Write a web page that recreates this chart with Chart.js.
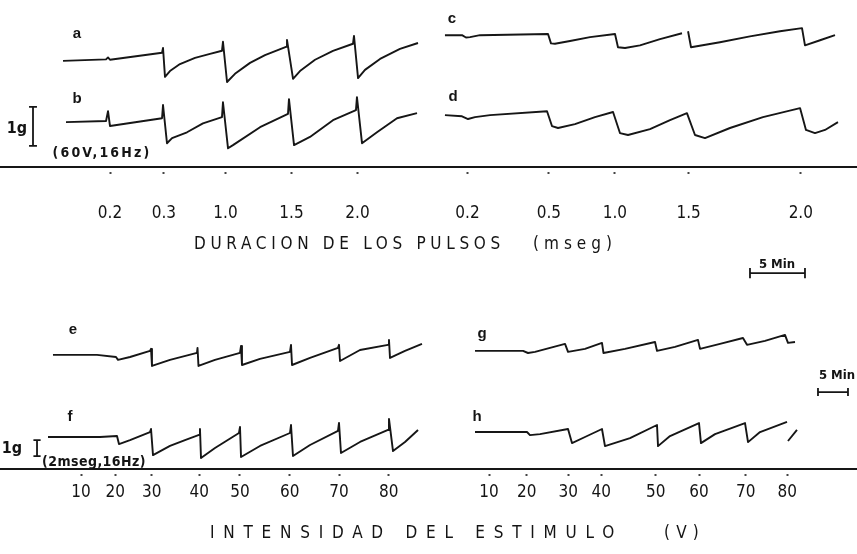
<!DOCTYPE html>
<html>
<head>
<meta charset="utf-8">
<script src="https://cdn.jsdelivr.net/npm/chart.js@4"></script>
<style>
  body { margin: 0; background: #fff; }
  #wrap { position: relative; width: 857px; height: 554px; overflow: hidden; background: #fff; }
  canvas { position: absolute; left: 0; }
  .lbl { position: absolute; transform: translate(-50%, -50%); white-space: nowrap; color: #141414;
         font-family: "Liberation Sans Narrow", "DejaVu Sans Condensed", "Liberation Sans", sans-serif; }
  .ltr { font-family: "Liberation Sans", sans-serif; font-weight: bold; font-size: 15px; }
  .note { font-weight: bold; font-size: 14px; }
  .ttl { position: absolute; transform: translateY(-50%); white-space: nowrap; color: #141414; font-size: 17px;
         font-family: "Liberation Sans Narrow", "DejaVu Sans Condensed", "Liberation Sans", sans-serif; }
</style>
</head>
<body>
<div id="wrap">
  <canvas id="topChart" width="857" height="290" style="top:0"></canvas>
  <canvas id="botChart" width="857" height="264" style="top:290px"></canvas>

  <div class="lbl ltr" style="left:77px;top:32px">a</div>
  <div class="lbl ltr" style="left:77px;top:97px">b</div>
  <div class="lbl ltr" style="left:452px;top:17px">c</div>
  <div class="lbl ltr" style="left:453px;top:95px">d</div>
  <div class="lbl ltr" style="left:73px;top:328px">e</div>
  <div class="lbl ltr" style="left:70px;top:415px">f</div>
  <div class="lbl ltr" style="left:482px;top:332px">g</div>
  <div class="lbl ltr" style="left:477px;top:415px">h</div>

  <div class="lbl note" style="left:17px;top:127px;font-size:16px">1g</div>
  <div class="lbl note fit" data-w="99" style="left:102px;top:152px">(60V,16Hz)</div>
  <div class="lbl note" style="left:12px;top:447px;font-size:16px">1g</div>
  <div class="lbl note fit" data-w="104" style="left:94px;top:461px">(2mseg,16Hz)</div>
  <div class="lbl note" style="left:777px;top:263px;font-size:13px">5 Min</div>
  <div class="lbl note" style="left:837px;top:374px;font-size:13px">5 Min</div>

  <div class="ttl fit" data-w="311" style="left:194px;top:243px">DURACION DE LOS PULSOS</div>
  <div class="ttl fit" data-w="84" style="left:533px;top:243px">(mseg)</div>
  <div class="ttl fit" data-w="413" style="left:210px;top:532px">INTENSIDAD DEL ESTIMULO</div>
  <div class="ttl fit" data-w="41" style="left:664px;top:532px">(V)</div>
</div>
<script>
// Tension records: [time (min), force (g) relative to the start of the record]
// null = pen lift
const traceA = [[5.73,0],[9.64,0.04],[9.82,0.09],[10.0,0.03],[14.73,0.21],[14.82,0.33],[15.0,-0.41],[15.45,-0.26],
  [16.36,-0.08],[17.73,0.08],[19.09,0.18],[20.18,0.26],[20.27,0.49],[20.64,-0.54],[21.36,-0.33],[22.73,-0.05],
  [24.09,0.15],[26.0,0.36],[26.09,0.54],[26.64,-0.46],[27.27,-0.26],[28.64,0.03],[30.27,0.26],[32.09,0.44],
  [32.18,0.64],[32.55,-0.44],[33.18,-0.23],[34.55,0.05],[36.36,0.31],[38.0,0.46]];
const traceB = [[6.0,0],[9.64,0.03],[9.82,0.28],[10.0,-0.10],[14.73,0.10],[14.82,0.44],[15.18,-0.54],[15.64,-0.41],
  [17.0,-0.26],[18.45,-0.03],[20.18,0.13],[20.27,0.51],[20.73,-0.67],[21.18,-0.59],[23.64,-0.13],[26.18,0.21],
  [26.27,0.59],[26.73,-0.59],[28.18,-0.38],[30.27,0.05],[32.36,0.31],[32.45,0.64],[32.91,-0.54],[34.27,-0.26],
  [36.09,0.10],[37.91,0.23]];
const traceC = [[40.45,0],[42.0,0],[42.36,-0.06],[42.73,-0.05],[43.64,0],[49.82,0.03],[50.09,-0.21],[50.45,-0.22],
  [51.82,-0.15],[53.64,-0.05],[55.91,0.03],[56.18,-0.31],[56.82,-0.33],[58.18,-0.26],[60.0,-0.10],[62.0,0.05],
  null,[62.55,0.10],[62.82,-0.31],[65.45,-0.18],[68.18,-0.03],[70.91,0.10],[72.91,0.18],[73.18,-0.26],
  [74.55,-0.13],[75.91,0]];
const traceD = [[40.45,0],[42.0,-0.03],[42.55,-0.10],[43.18,-0.05],[44.55,0],[49.73,0.10],[50.18,-0.28],[50.73,-0.33],
  [52.27,-0.23],[54.09,-0.05],[55.73,0.08],[56.36,-0.46],[57.09,-0.51],[59.09,-0.36],[60.91,-0.13],[62.45,0.05],
  [63.18,-0.51],[64.09,-0.59],[66.36,-0.33],[69.36,-0.05],[72.73,0.18],[73.27,-0.38],[74.09,-0.46],[75.0,-0.38],
  [76.18,-0.18]];
const traceE = [[8.83,0],[16.17,0],[19.33,-0.13],[19.67,-0.31],[21.67,-0.13],[25.0,0.25],[25.17,0.38],[25.33,-0.69],
  [28.33,-0.31],[32.83,0.13],[32.92,0.44],[33.08,-0.69],[35.83,-0.31],[40.0,0.13],[40.17,0.56],[40.33,-0.63],
  [43.33,-0.25],[48.33,0.19],[48.5,0.63],[48.67,-0.63],[51.67,-0.19],[56.33,0.44],[56.5,0.63],[56.67,-0.38],
  [60.0,0.31],[64.67,0.63],[64.83,0.94],[65.0,-0.19],[67.5,0.25],[70.33,0.69]];
const traceF = [[8.0,0],[16.67,0],[19.5,0.06],[19.83,-0.44],[21.67,-0.19],[25.0,0.31],[25.17,0.5],[25.5,-1.13],
  [28.33,-0.56],[30.83,-0.19],[33.17,0.13],[33.33,0.5],[33.5,-1.31],[35.83,-0.69],[39.83,0.25],[40.0,0.63],
  [40.17,-1.25],[43.33,-0.56],[48.33,0.25],[48.5,0.75],[48.83,-1.19],[51.67,-0.5],[56.33,0.38],[56.5,0.88],
  [56.83,-1.0],[60.0,-0.31],[64.67,0.44],[64.83,1.13],[65.5,-0.88],[67.5,-0.31],[69.67,0.44]];
const traceG = [[79.17,0],[87.17,0],[88.0,-0.13],[89.17,-0.06],[94.17,0.44],[94.67,-0.06],[97.5,0.13],[100.33,0.5],
  [100.58,-0.13],[104.17,0.13],[109.17,0.56],[109.5,0],[112.5,0.25],[116.33,0.69],[116.67,0.13],[120.0,0.44],
  [123.83,0.81],[124.5,0.38],[127.5,0.63],[130.83,1.0],[131.33,0.5],[132.5,0.56]];
const traceH = [[79.17,0],[87.83,0],[88.33,-0.19],[90.0,-0.13],[94.67,0.19],[95.33,-0.69],[97.5,-0.31],[100.33,0.19],
  [100.83,-0.88],[105.0,-0.38],[109.5,0.44],[109.67,-0.88],[111.67,-0.25],[116.5,0.56],[116.83,-0.69],[119.17,-0.13],
  [124.17,0.56],[124.67,-0.63],[126.67,0],[131.17,0.63],null,[131.33,-0.56],[132.83,0.13]];

// stimulus marks on the time axis
const pulseTimes = [10.0, 14.9, 20.5, 26.5, 32.5, 42.5, 49.9, 55.9, 62.6, 72.8];
const pulseLabels = ['0.2', '0.3', '1.0', '1.5', '2.0', '0.2', '0.5', '1.0', '1.5', '2.0'];
const voltTimes = [13.5, 19.2, 25.3, 33.2, 40.0, 48.3, 56.5, 64.8, 81.5, 87.8, 94.7, 100.2, 109.3, 116.5, 124.3, 131.2];
const voltLabels = ['10', '20', '30', '40', '50', '60', '70', '80', '10', '20', '30', '40', '50', '60', '70', '80'];

// calibration bars
const scaleMinutes = 5;
const scaleGrams = 1;

// ---- layout ----
const INK = '#161616';
const FONT = '"Liberation Sans Narrow", "DejaVu Sans Condensed", "Liberation Sans", sans-serif';

function toXY(points, base) {
    var out = [];
    points.forEach(function (p, i) {
        if (p === null) out.push({ x: points[i - 1][0] + 0.05, y: null });
        else out.push({ x: p[0], y: p[1] + base });
    });
    return out;
}

function traceSet(points, base) {
    return {
        data: toXY(points, base),
        borderColor: INK,
        borderWidth: 1.9,
        borderJoinStyle: 'round',
        pointRadius: 0,
        tension: 0,
        spanGaps: false
    };
}

function barSet(points) {
    return {
        data: points.map(function (p) { return { x: p[0], y: p[1] }; }),
        borderColor: INK,
        borderWidth: 1.8,
        pointRadius: 0,
        tension: 0,
        clip: false
    };
}

// vertical "1 g" I-beam
function gramBar(t, g0, cap) {
    var g1 = g0 + scaleGrams;
    return [[t - cap, g0], [t + cap, g0], [t, g0], [t, g1], [t - cap, g1], [t + cap, g1]];
}
// horizontal "5 Min" bar with end ticks
function minuteBar(t0, g, tick) {
    var t1 = t0 + scaleMinutes;
    return [[t0, g + tick], [t0, g - tick], [t0, g], [t1, g], [t1, g + tick], [t1, g - tick]];
}

function makeChart(id, datasets, xMax, yMax, tickTimes, tickLabels, axisHeight, pad) {
    return new Chart(document.getElementById(id), {
        type: 'line',
        data: { datasets: datasets },
        options: {
            responsive: false,
            animation: false,
            events: [],
            layout: { padding: 0 },
            plugins: { legend: { display: false }, tooltip: { enabled: false } },
            scales: {
                x: {
                    type: 'linear',
                    min: 0,
                    max: xMax,
                    border: { display: true, color: INK, width: 2 },
                    grid: {
                        display: true, drawOnChartArea: false, drawTicks: true,
                        tickLength: 8, tickWidth: 2, tickColor: '#444', tickBorderDash: [0, 4, 2, 20]
                    },
                    afterBuildTicks: function (s) { s.ticks = tickTimes.map(function (v) { return { value: v }; }); },
                    afterFit: function (s) { s.height = axisHeight; },
                    ticks: {
                        autoSkip: false, maxRotation: 0, minRotation: 0, padding: pad, color: '#141414',
                        font: { family: FONT, size: 17 },
                        callback: function (v, i) { return tickLabels[i]; }
                    }
                },
                y: { type: 'linear', display: false, min: 0, max: yMax }
            }
        }
    });
}

// top: 11 px per minute, 39 px per gram; axis line at 167 px
makeChart('topChart', [
    traceSet(traceA, 2.72),
    traceSet(traceB, 1.15),
    traceSet(traceC, 3.38),
    traceSet(traceD, 1.33),
    barSet(gramBar(3.0, 0.54, 0.36)),
    barSet(minuteBar(68.18, -2.72, 0.13))
], 857 / 11, 167 / 39, pulseTimes, pulseLabels, 123, 28);

// bottom: 6 px per minute, 16 px per gram; axis line at 469 px
makeChart('botChart', [
    traceSet(traceE, 7.13),
    traceSet(traceF, 2.0),
    traceSet(traceG, 7.38),
    traceSet(traceH, 2.31),
    barSet(gramBar(6.17, 0.81, 0.6)),
    barSet(minuteBar(136.33, 4.81, 0.25))
], 857 / 6, 179 / 16, voltTimes, voltLabels, 85, 5);

// spread the lettering to the letter-spaced width of the original
document.querySelectorAll('.fit').forEach(function (el) {
    var w = +el.dataset.w;
    var natural = el.getBoundingClientRect().width;
    var n = el.textContent.length;
    el.style.letterSpacing = Math.max(0, (w - natural) / n) + 'px';
});
</script>
</body>
</html>
